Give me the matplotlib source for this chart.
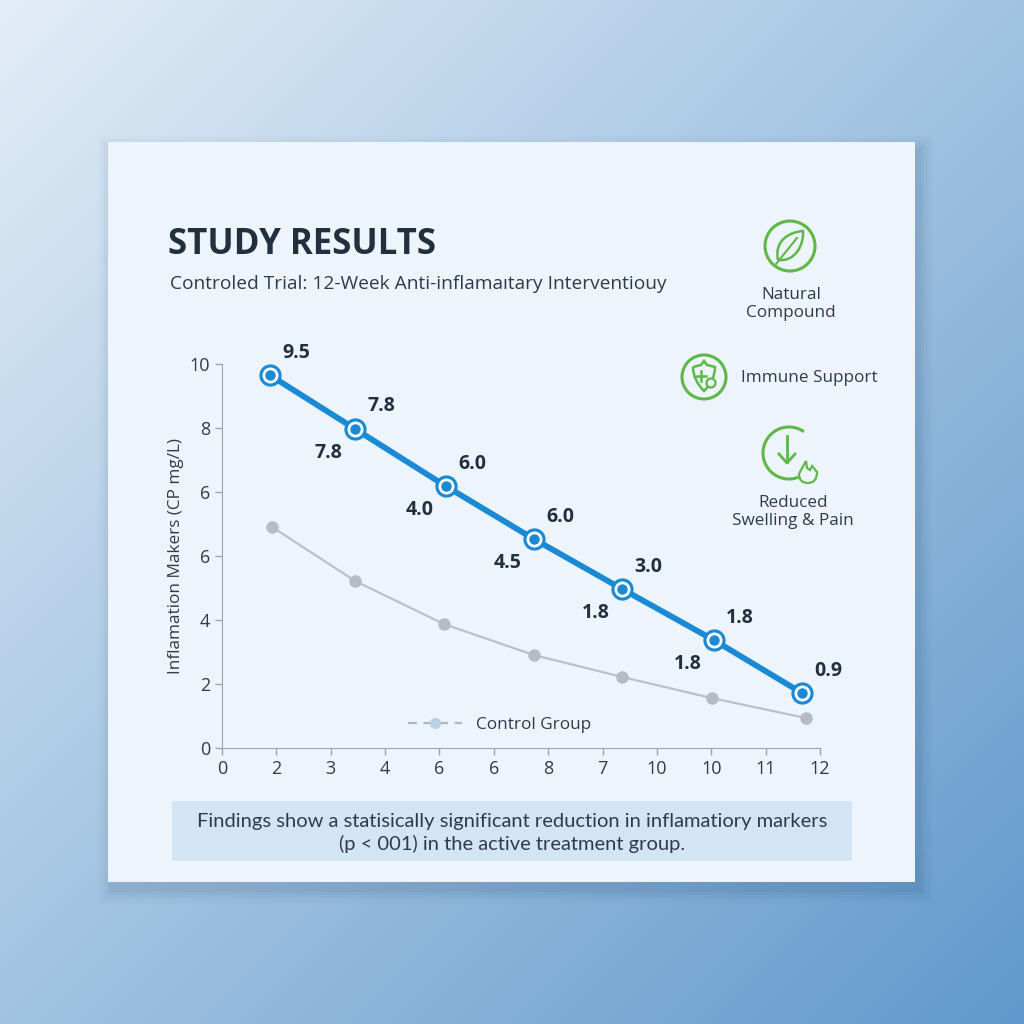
import numpy as np
import matplotlib
matplotlib.use("Agg", force=True)
import matplotlib.pyplot as plt
from matplotlib.patches import Rectangle, Circle, Arc, PathPatch
from matplotlib.path import Path
from matplotlib.lines import Line2D

# ---- data ----
treat_x = [0.96, 2.67, 4.49, 6.26, 8.03, 9.87, 11.64]
treat_y = [9.71, 8.31, 6.82, 5.44, 4.14, 2.81, 1.43]
label_hi = ["9.5", "7.8", "6.0", "6.0", "3.0", "1.8", "0.9"]
label_lo = ["", "7.8", "4.0", "4.5", "1.8", "1.8", ""]

ctrl_x = [1.0, 2.67, 4.45, 6.26, 8.03, 9.83, 11.72]
ctrl_y = [5.76, 4.35, 3.23, 2.42, 1.85, 1.30, 0.78]

xtick_labels = ["0", "2", "3", "4", "6", "6", "8", "7", "10", "10", "11", "12"]
ytick_labels = ["0", "2", "4", "6", "6", "8", "10"]

BLUE = "#1a8ad4"
GRAY = "#b9c1ca"
GREEN = "#5db847"
DARK = "#222f3e"
TXT = "#2f3b4a"

plt.rcParams['font.family'] = ['Open Sans', 'DejaVu Sans']

fig = plt.figure(figsize=(10.24, 10.24), dpi=100)

# background gradient
bg = fig.add_axes([0, 0, 1, 1], zorder=-10)
yy, xx = np.mgrid[0:1:256j, 0:1:256j]
t = (xx + yy) / 2
c0 = np.array([0.89, 0.93, 0.97])
c1 = np.array([0.38, 0.60, 0.80])
img = c0[None, None, :] * (1 - t[..., None]) + c1[None, None, :] * t[..., None]
bg.imshow(img, extent=[0, 1024, 1024, 0], aspect='auto')
bg.set_xlim(0, 1024)
bg.set_ylim(1024, 0)
bg.axis('off')

# card with soft shadow
for i, a in enumerate([0.05, 0.04, 0.03, 0.02, 0.015]):
    d = 4 + i * 6
    bg.add_patch(Rectangle((108 - d / 2 + 4, 142 - d / 2 + 8), 807 + d, 740 + d,
                           facecolor='#1c3a5c', edgecolor='none', alpha=a))
bg.add_patch(Rectangle((108, 142), 807, 740, facecolor='#eef4fb', edgecolor='none'))
# findings box
bg.add_patch(Rectangle((172, 801), 680, 60, facecolor='#d3e5f4', edgecolor='none'))

# titles
bg.text(168, 245, "STUDY RESULTS", fontsize=25, fontweight='bold', color=DARK,
        va='center', ha='left')
bg.text(170, 284, "Controled Trial: 12-Week Anti-inflamaıtary Interventiouy",
        fontsize=13.8, color=TXT, va='center', ha='left')
bg.text(512, 833, "Findings show a statisically significant reduction in inflamatiory markers\n"
        "(p < 001) in the active treatment group.",
        fontsize=14.5, color=TXT, va='center', ha='center', linespacing=1.3,
        family=['Lato', 'DejaVu Sans'])

# ---- icons ----
lw_icon = 2.2
# leaf
bg.add_patch(Circle((790, 246), 25, fill=False, edgecolor=GREEN, lw=lw_icon))
leaf = Path([(778, 260), (774, 240), (790, 232), (803, 231),
             (804, 244), (796, 262), (778, 260)],
            [Path.MOVETO, Path.CURVE4, Path.CURVE4, Path.CURVE4,
             Path.CURVE4, Path.CURVE4, Path.CURVE4])
bg.add_patch(PathPatch(leaf, fill=False, edgecolor=GREEN, lw=1.8))
bg.plot([776, 797], [264, 238], color=GREEN, lw=1.5)
bg.text(791, 304, "Natural\nCompound", fontsize=12.3, color=TXT, ha='center',
        va='center', linespacing=1.2)

# shield
bg.add_patch(Circle((704, 377), 22, fill=False, edgecolor=GREEN, lw=lw_icon))
shield = Path([(693, 367), (701, 365), (704, 361), (707, 365), (715, 367),
               (715, 380), (704, 391), (693, 380), (693, 367)],
              [Path.MOVETO] + [Path.LINETO] * 4 + [Path.CURVE3, Path.CURVE3,
                                                    Path.CURVE3, Path.CURVE3])
bg.add_patch(PathPatch(shield, fill=False, edgecolor=GREEN, lw=1.8))
bg.plot([696, 706], [376, 376], color=GREEN, lw=1.8)
bg.plot([701, 701], [371, 381], color=GREEN, lw=1.8)
bg.add_patch(Circle((711, 383), 4.5, facecolor='#eef4fb', edgecolor=GREEN, lw=1.6))
bg.text(741, 378, "Immune Support", fontsize=12.3, color=TXT, ha='left', va='center')

# reduced swelling
bg.add_patch(Arc((789, 453), 52, 52, theta1=30, theta2=305, edgecolor=GREEN, lw=lw_icon))
bg.plot([787, 787], [436, 462], color=GREEN, lw=2)
bg.plot([779, 787, 795], [454, 463, 454], color=GREEN, lw=2)
bg.add_patch(Circle((808, 472), 11, facecolor='#eef4fb', edgecolor='none'))
flame = Path([(808, 483), (799, 483), (799, 474), (801, 470), (806, 461),
              (807, 468), (810, 470), (812, 466), (817, 472), (817, 483), (808, 483)],
             [Path.MOVETO, Path.CURVE3, Path.CURVE3, Path.LINETO, Path.LINETO,
              Path.LINETO, Path.LINETO, Path.LINETO, Path.LINETO, Path.CURVE3, Path.CURVE3])
bg.add_patch(PathPatch(flame, fill=False, edgecolor=GREEN, lw=1.6))
bg.text(793, 512, "Reduced\nSwelling & Pain", fontsize=12.3, color=TXT, ha='center',
        va='center', linespacing=1.2)

# ---- chart ----
ax = fig.add_axes([222 / 1024, 1 - 748 / 1024, (820 - 222) / 1024, (748 - 364) / 1024])
ax.set_facecolor('none')
ax.set_xlim(0, 12)
ax.set_ylim(0, 10)

ax.plot(ctrl_x, ctrl_y, color=GRAY, lw=1.6, zorder=2, clip_on=False)
ax.plot(ctrl_x, ctrl_y, 'o', color='#b5bcc5', ms=8, zorder=3, clip_on=False)

ax.plot(treat_x, treat_y, color=BLUE, lw=4.2, zorder=4, clip_on=False,
        solid_capstyle='round')
ax.plot(treat_x, treat_y, 'o', color=BLUE, ms=15, zorder=5, clip_on=False)
ax.plot(treat_x, treat_y, 'o', color='white', ms=10.5, zorder=6, clip_on=False)
ax.plot(treat_x, treat_y, 'o', color=BLUE, ms=6.5, zorder=7, clip_on=False)

for x, y, hi, lo in zip(treat_x, treat_y, label_hi, label_lo):
    ax.annotate(hi, (x, y), xytext=(9, 9), textcoords='offset points',
                fontsize=14, fontweight='bold', color=DARK, ha='left', va='bottom',
                annotation_clip=False)
    if lo:
        ax.annotate(lo, (x, y), xytext=(-9, -10), textcoords='offset points',
                    fontsize=14, fontweight='bold', color=DARK, ha='right', va='top',
                    annotation_clip=False)

handle = Line2D([0], [0], color='#a9b8c6', lw=1.6, linestyle=(0, (4, 3)),
                marker='o', ms=7, markerfacecolor='#b8d2e4', markeredgecolor='#b8d2e4')
ax.legend([handle], ["Control Group"], loc='lower left', bbox_to_anchor=(0.285, 0.0),
          frameon=False, fontsize=12.3, handlelength=3.2, labelcolor=TXT)

xt = np.linspace(0, 12, len(xtick_labels))
yt = np.linspace(0, 10, len(ytick_labels))
ax.set_xticks(xt)
ax.set_xticklabels(xtick_labels)
ax.set_yticks(yt)
ax.set_yticklabels(ytick_labels)
ax.tick_params(colors='#9aa5b1', labelcolor=TXT, labelsize=13, length=5, width=1)
for s in ['top', 'right']:
    ax.spines[s].set_visible(False)
for s in ['left', 'bottom']:
    ax.spines[s].set_color('#9aa5b1')
ax.set_ylabel("Inflamation Makers (CP mg/L)", fontsize=12.3, color=TXT, labelpad=4)

fig.savefig("out.png", dpi=100)
